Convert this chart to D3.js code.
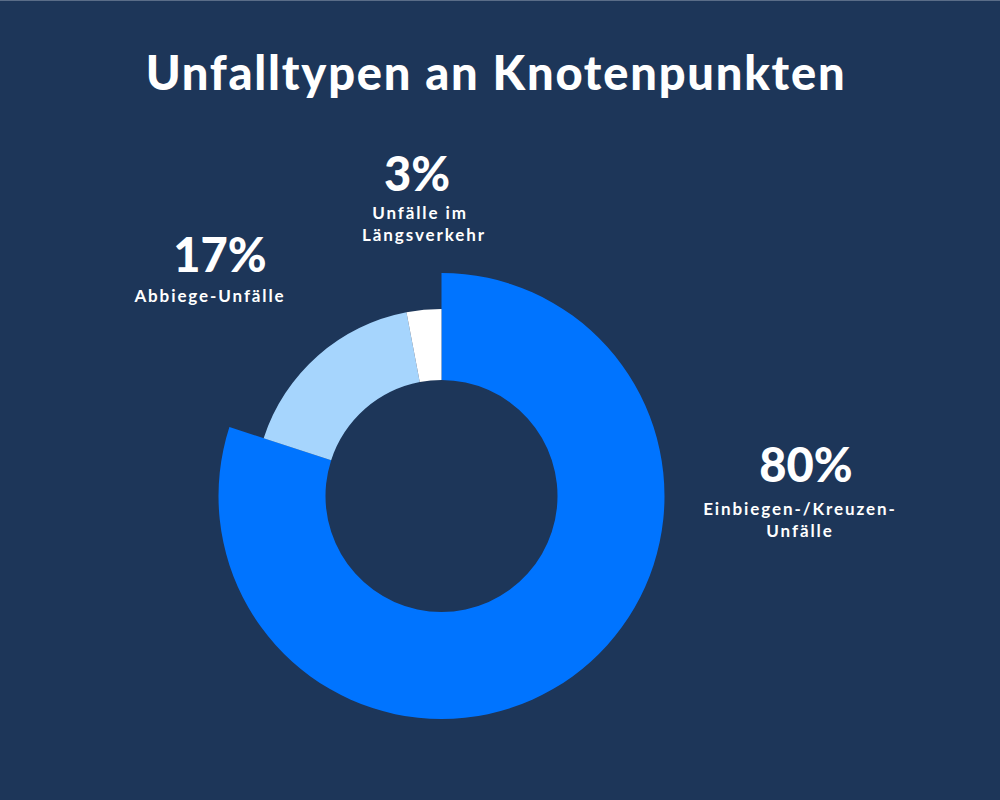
<!DOCTYPE html>
<html><head><meta charset="utf-8">
<script src="https://cdn.jsdelivr.net/npm/d3@7"></script>
<style>body{margin:0;background:#1d3659;} svg{display:block;}</style>
</head><body>
<script>
const categories = ["Einbiegen-/Kreuzen-Unfälle", "Abbiege-Unfälle", "Unfälle im Längsverkehr"];
const values = [80, 17, 3];
const pctLabels = ["80%", "17%", "3%"];
const subLabels = [["Einbiegen-/Kreuzen-", "Unfälle"], ["Abbiege-Unfälle"], ["Unfälle im", "Längsverkehr"]];
const colors = ["#0074ff", "#a6d5fd", "#ffffff"];
const title = "Unfalltypen an Knotenpunkten";

const W = 1000, H = 800;
const svg = d3.select("body").append("svg").attr("width", W).attr("height", H);
svg.append("rect").attr("width", W).attr("height", H).attr("fill", "#1d3659");
svg.append("rect").attr("width", W).attr("height", 1).attr("fill", "#5a6d88");

svg.append("text").attr("x", 496).attr("y", 90).attr("text-anchor", "middle")
  .attr("fill", "#fff").attr("font-family", "Lato, 'Noto Sans', sans-serif")
  .attr("font-weight", 900).attr("font-size", 47).attr("letter-spacing", 1.8).text(title);

const cx = 441.5, cy = 496;
const pie = d3.pie().sort(null).value(d => d)(values);
const outer = [223, 187, 187];
const g = svg.append("g").attr("transform", `translate(${cx},${cy})`);
g.selectAll("path").data(pie).join("path")
  .attr("d", (d, i) => d3.arc().innerRadius(116).outerRadius(outer[i])(d))
  .attr("fill", (d, i) => colors[i]);

const labelPos = [{x: 806, y: 482}, {x: 220, y: 272}, {x: 417, y: 191}];
const subX = [[800, 800], [210], [420, 424]];
const subY = [[515, 537], [302], [219, 241]];
labelPos.forEach((p, i) => {
  svg.append("text").attr("x", p.x).attr("y", p.y).attr("text-anchor", "middle")
    .attr("fill", "#fff").attr("font-family", "Lato, 'Noto Sans', sans-serif")
    .attr("font-weight", 900).attr("font-size", 47).text(pctLabels[i]);
  subLabels[i].forEach((s, j) => {
    svg.append("text").attr("x", subX[i][j]).attr("y", subY[i][j]).attr("text-anchor", "middle")
      .attr("fill", "#fff").attr("font-family", "Lato, 'Noto Sans', sans-serif")
      .attr("font-weight", 700).attr("font-size", 17).attr("letter-spacing", 1.9).text(s);
  });
});
</script>
</body></html>
